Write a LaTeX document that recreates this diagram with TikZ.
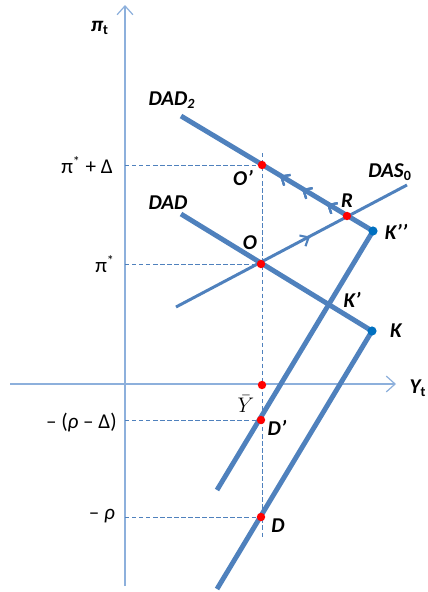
\documentclass[tikz,border=0pt]{standalone}
\usepackage{fontspec}
\setmainfont{Carlito}
\usetikzlibrary{arrows.meta, calc, decorations.markings, positioning}
\definecolor{linblue}{RGB}{79,129,189}
\definecolor{axblue}{RGB}{141,176,220}
\definecolor{dotblue}{RGB}{0,112,192}

\begin{document}
\begin{tikzpicture}[x=0.02cm, y=-0.02cm, font=\fontsize{12}{14}\selectfont,
    axis/.style={axblue, line width=0.7pt, -{Straight Barb[length=5pt, width=9pt]}},
    curve/.style={linblue, line width=2.8pt},
    dasline/.style={linblue, line width=1.7pt},
    guide/.style={linblue, line width=0.45pt, dash pattern=on 2.5pt off 1.5pt},
    flow/.style={postaction={decorate}, decoration={markings,
        mark=at position #1 with {\arrow[linblue, line width=1.2pt]{Straight Barb[length=4pt, width=7pt]}}}},
    lbl/.style={font=\fontsize{12}{14}\selectfont\bfseries\itshape},
    val/.style={anchor=east}]

    \useasboundingbox (0,0) rectangle (427,592);

    % =================================================================
    % Points
    % =================================================================
    \coordinate (O2) at (262,165);    % O'
    \coordinate (O) at (261,264);
    \coordinate (R) at (347,216);
    \coordinate (K2) at (373,231);    % K''
    \coordinate (K) at (372,331);
    \coordinate (Yb) at (262,385);
    \coordinate (D2) at (261,420);    % D'
    \coordinate (D) at (261,517);

    % Line ends
    \coordinate (dadtwo) at (181,116);
    \coordinate (dad) at (181,214);
    \coordinate (dasA) at (176,307);
    \coordinate (dasB) at (407,185);
    \coordinate (lowA) at (217,490);
    \coordinate (lowB) at (217,589);

    % =================================================================
    % Axes
    % =================================================================
    \coordinate (yaxB) at (125,586);
    \coordinate (yaxT) at (125,5);
    \coordinate (xaxL) at (10,384);
    \coordinate (xaxR) at (396,384);
    \draw[axis] (yaxB) -- (yaxT);
    \draw[axis] (xaxL) -- (xaxR);
    \node[lbl] (pit) at (100,28) {π\textsubscript{\upshape t}};
    \node[lbl] (yt) at (418,388) {Y\textsubscript{\upshape t}};

    % Guide lines (dashed)
    \coordinate (gtop) at (262,153);
    \coordinate (gbot) at (262,537);
    \draw[guide] (gtop) -- (gbot);
    \draw[guide] (O2 -| yaxT) -- (O2);
    \draw[guide] (O -| yaxT) -- (O);
    \draw[guide] (D2 -| yaxT) -- (D2);
    \draw[guide] (D -| yaxT) -- (D);

    % Values on the vertical axis
    \node[val] (v1) at (119,165) {π\textsuperscript{*} + Δ};
    \node[val] (v2) at (121,264) {π\textsuperscript{*}};
    \node[val] (v3) at (123,422) {– (\textit{ρ} – Δ)};
    \node[val] (v4) at (121,516) {– \textit{ρ}};

    % =================================================================
    % Curves
    % =================================================================
    \draw[dasline] (dasA) -- (dasB);
    \draw[curve] (dadtwo) -- (K2);
    \draw[curve] (dad) -- (K);
    \draw[curve] (K2) -- (lowA);
    \draw[curve] (K) -- (lowB);

    % Arrows of the path O -> R -> O'
    \path[flow=0.57] (O) -- (R);
    \path[flow=0.235, flow=0.53, flow=0.79] (R) -- (O2);

    % Dots
    \foreach \p in {O2, O, R, Yb, D2, D}
        \fill[red] (\p) circle (2.4pt);
    \foreach \p in {K2, K}
        \fill[dotblue] (\p) circle (2.6pt);

    % =================================================================
    % Labels
    % =================================================================
    \node[lbl] (lDADtwo) at (172,100) {DAD\textsubscript{2}};
    \node[lbl] (lDAD) at (168,203) {DAD};
    \node[lbl] (lDAS) at (390,172) {DAS\textsubscript{\upshape 0}};
    \node[lbl] (lO2) at (243,178) {O’};
    \node[lbl] (lO) at (250,243) {O};
    \node[lbl] (lR) at (347,201) {R};
    \node[lbl] (lK2) at (396,232) {K’’};
    \node[lbl] (lK1) at (352,300) {K’};
    \node[lbl] (lK) at (396,331) {K};
    \node[inner sep=0pt] (lYb) at (246,404) {$\bar{Y}$};
    \node[lbl, inner sep=1pt] (lD2) at (277,428) {D’};
    \node[lbl] (lD) at (278,526) {D};

\end{tikzpicture}
\end{document}
